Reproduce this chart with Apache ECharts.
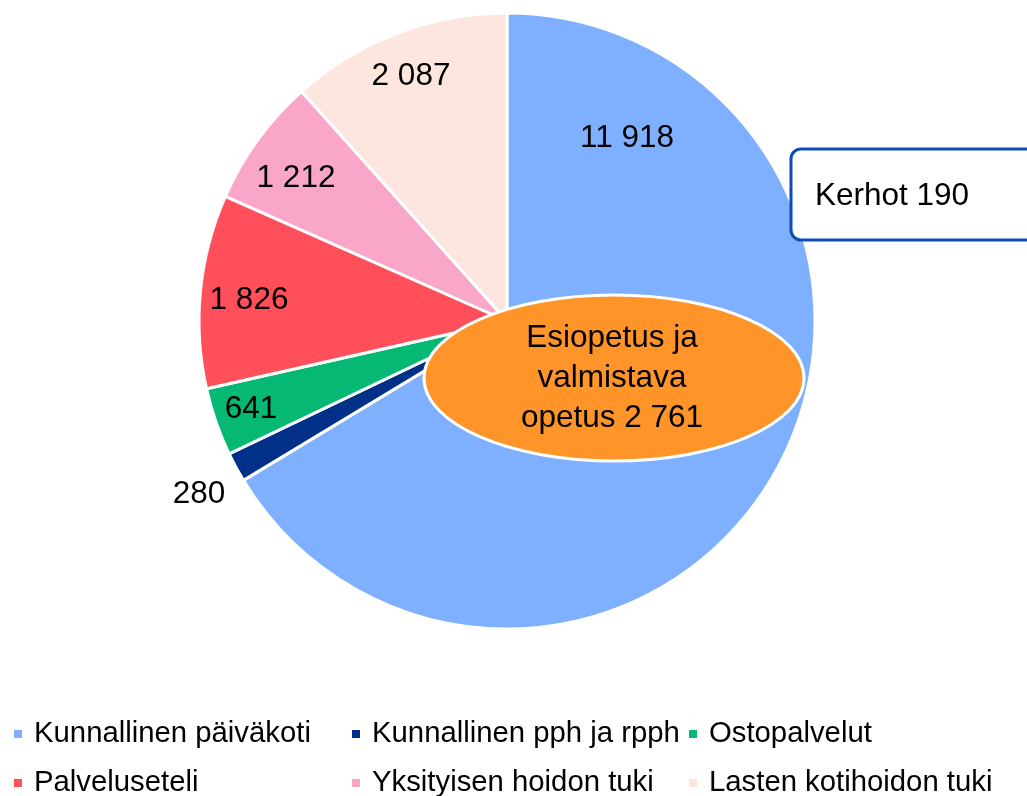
<!DOCTYPE html>
<html>
<head>
<meta charset="utf-8">
<style>
  html, body { margin: 0; padding: 0; background: #fff; }
  #chart { width: 1027px; height: 796px; }
</style>
<script src="https://cdn.jsdelivr.net/npm/echarts@6/dist/echarts.min.js"></script>
</head>
<body>
<div id="chart"></div>
<script>
// sektorit
var categories = ['Kunnallinen päiväkoti', 'Kunnallinen pph ja rpph', 'Ostopalvelut',
                  'Palveluseteli', 'Yksityisen hoidon tuki', 'Lasten kotihoidon tuki'];
var values = [11918, 280, 641, 1826, 1212, 2087];
var labels = ['11 918', '280', '641', '1 826', '1 212', '2 087'];
var colors = ['#7FB0FF', '#003087', '#05B874', '#FF4F5A', '#FAA6C8', '#FCE6DD'];

// erilliset tekstilaatikot
var ellipseText = 'Esiopetus ja\nvalmistava\nopetus 2 761';
var boxText = 'Kerhot 190';

// tekstien paikat (px)
var labelPos = [[627, 138], [199, 494], [251, 409], [249, 300], [296, 178], [411, 76]];

(function () {
    var chart = echarts.init(document.getElementById('chart'));
    var font = 'Liberation Sans, Arial, sans-serif';

    var data = categories.map(function (c, i) {
        return { name: c, value: values[i], itemStyle: { color: colors[i] } };
    });

    // selite: 3 saraketta, 2 riviä
    var legendLeft = [12, 350, 687];
    var legendTop = [719, 768];
    var legends = categories.map(function (c, i) {
        return {
            left: legendLeft[i % 3],
            top: legendTop[Math.floor(i / 3)],
            padding: 0,
            icon: 'rect',
            itemWidth: 10,
            itemHeight: 10,
            selectedMode: false,
            data: [c],
            textStyle: { fontFamily: font, fontSize: 29.3, lineHeight: 30, color: '#000', padding: [0, 0, 0, 6] }
        };
    });

    var option = {
        animation: false,
        legend: legends,
        series: [{
            type: 'pie',
            center: [507, 321],
            radius: 308,
            startAngle: 90,
            clockwise: true,
            itemStyle: { borderColor: '#fff', borderWidth: 3 },
            label: {
                show: true,
                position: 'inside',
                fontFamily: font,
                fontSize: 31.5,
                color: '#000',
                formatter: function (p) { return labels[p.dataIndex]; }
            },
            labelLine: { show: false },
            labelLayout: function (p) {
                var pos = labelPos[p.dataIndex];
                return { x: pos[0], y: pos[1], align: 'center', verticalAlign: 'middle' };
            },
            emphasis: { disabled: true },
            data: data
        }],
        graphic: [
            {
                type: 'ellipse',
                shape: { cx: 614, cy: 378, rx: 190, ry: 83 },
                style: { fill: '#FF9429', stroke: '#fff', lineWidth: 3 },
                z: 100
            },
            {
                type: 'text',
                x: 612, y: 378,
                style: {
                    text: ellipseText,
                    fontFamily: font, fontSize: 31.5, lineHeight: 40,
                    fill: '#000', align: 'center', verticalAlign: 'middle'
                },
                z: 101
            },
            {
                type: 'rect',
                shape: { x: 791, y: 149, width: 260, height: 91, r: 10 },
                style: { fill: '#fff', stroke: '#0A4DB4', lineWidth: 3 },
                z: 100
            },
            {
                type: 'text',
                x: 815, y: 196,
                style: {
                    text: boxText,
                    fontFamily: font, fontSize: 31.5,
                    fill: '#000', align: 'left', verticalAlign: 'middle'
                },
                z: 101
            }
        ]
    };

    chart.setOption(option);
})();
</script>
</body>
</html>
